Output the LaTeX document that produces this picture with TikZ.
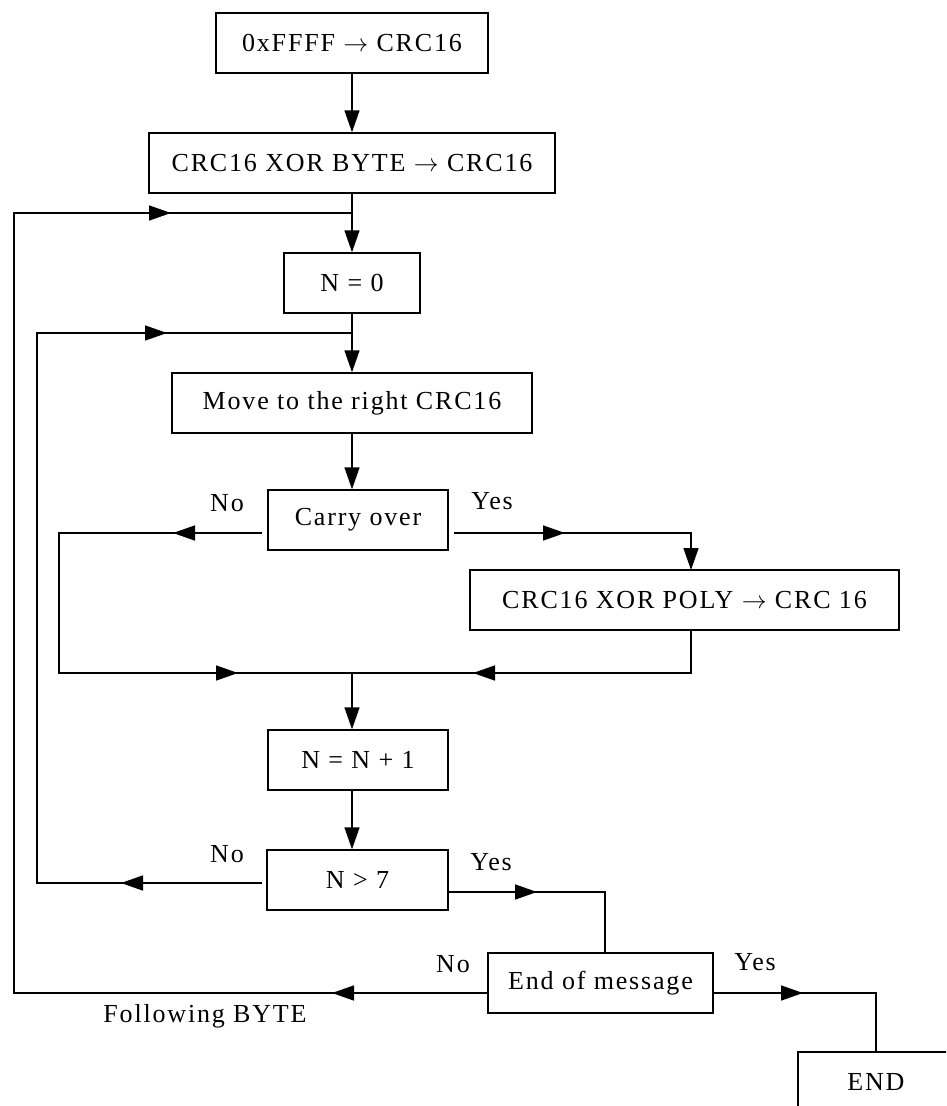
\documentclass[tikz,border=0pt]{standalone}
\usepackage{fontspec}
\setmainfont{Liberation Serif}[LetterSpace=7]
\usetikzlibrary{arrows.meta}
\newcommand\myfs{\fontsize{26}{30}\selectfont}
\newcommand\myto{\ $\rightarrow$\ }
\begin{document}
\begin{tikzpicture}[x=1pt,y=-1pt,
  box/.style={draw, line width=1.5pt, rectangle, inner sep=0pt, font=\myfs, minimum height=60pt},
  lbl/.style={inner sep=0pt, font=\myfs, anchor=base},
  ln/.style={line width=1.5pt},
  arr/.style={line width=1.5pt, -{Triangle[length=22pt,width=15pt]}},
]
\useasboundingbox (0,0) rectangle (946,1106);
\clip (0,0) rectangle (946,1106);

% boxes
\node[box, minimum width=272pt] (b1) at (352,43) {0xFFFF\myto CRC16};
\node[box, minimum width=406pt] (b2) at (352,163) {CRC16 XOR BYTE\myto CRC16};
\node[box, minimum width=136pt] (b3) at (352,283) {N = 0};
\node[box, minimum width=360pt] (b4) at (352,403) {Move to the right CRC16};
\node[box, minimum width=180pt] (b5) at (358,520) {Carry over};
\node[box, minimum width=429pt] (b6) at (684.5,600) {CRC16 XOR POLY\myto CRC 16};
\node[box, minimum width=180pt] (b7) at (358,760) {N = N + 1};
\node[box, minimum width=181pt] (b8) at (357.5,880) {N > 7};
\node[box, minimum width=225pt] (b9) at (600.5,983) {End of message};
\node[box, minimum width=156pt] (b10) at (876,1082) {END};

% helper coordinates
\coordinate (j1) at (352,213);
\coordinate (j2) at (352,333);
\coordinate (j3) at (352,673);
\coordinate (L1) at (14,0);
\coordinate (L2) at (37,0);
\coordinate (L3) at (59,0);
\coordinate (p6) at (691,570);
\coordinate (p6b) at (691,630);
\coordinate (e9t) at (605,953);
\coordinate (endt) at (876,1052);
\coordinate (cN) at ([xshift=-5pt,yshift=-13pt]b5.west);
\coordinate (cY) at ([xshift=5pt,yshift=-13pt]b5.east);
\coordinate (nN) at ([xshift=-4pt,yshift=-3pt]b8.west);
\coordinate (nY) at ([yshift=-12pt]b8.east);
\coordinate (eN) at ([yshift=-10pt]b9.west);
\coordinate (eY) at ([yshift=-10pt]b9.east);
% arrow tips on lines
\coordinate (a1) at (173,533);
\coordinate (a2) at (565,533);
\coordinate (a3) at (473,673);
\coordinate (a4) at (238,673);
\coordinate (a5) at (121,883);
\coordinate (a6) at (167,333);
\coordinate (a7) at (537,892);
\coordinate (a8) at (332,993);
\coordinate (a9) at (171,213);
\coordinate (a10) at (803,993);

% main vertical flow
\draw[arr] (b1.south) -- (b2.north);
\draw[arr] (b2.south) -- (b3.north);
\draw[arr] (b3.south) -- (b4.north);
\draw[arr] (b4.south) -- (b4.south |- b5.north);
\draw[arr] (j3) -- (j3 |- b7.north);
\draw[arr] (j3 |- b7.south) -- (j3 |- b8.north);

% carry over branches
\draw[ln] (cN) -- (L3 |- cN) -- (L3 |- j3) -- (j3);
\draw[arr] (cY) -- (cY -| p6) -- (p6);
\draw[ln] (p6b) -- (p6b |- j3) -- (j3);
\draw[arr] ([xshift=23pt]a1) -- (a1);
\draw[arr] ([xshift=-23pt]a2) -- (a2);
\draw[arr] ([xshift=23pt]a3) -- (a3);
\draw[arr] ([xshift=-23pt]a4) -- (a4);

% N > 7 branches
\draw[ln] (nN) -- (L2 |- nN) -- (L2 |- j2) -- (j2);
\draw[ln] (nY) -- (nY -| e9t) -- (e9t);
\draw[arr] ([xshift=23pt]a5) -- (a5);
\draw[arr] ([xshift=-23pt]a6) -- (a6);
\draw[arr] ([xshift=-23pt]a7) -- (a7);

% end of message branches
\draw[ln] (eN) -- (L1 |- eN) -- (L1 |- j1) -- (j1);
\draw[ln] (eY) -- (eY -| endt) -- (endt);
\draw[arr] ([xshift=23pt]a8) -- (a8);
\draw[arr] ([xshift=-23pt]a9) -- (a9);
\draw[arr] ([xshift=-23pt]a10) -- (a10);

% labels
\node[lbl] (l1) at (227,511) {No};
\node[lbl] (l2) at (492,509) {Yes};
\node[lbl] (l3) at (227,862) {No};
\node[lbl] (l4) at (491,870) {Yes};
\node[lbl] (l5) at (453,972) {No};
\node[lbl] (l6) at (755,970) {Yes};
\node[lbl] (l7) at (205,1022) {Following BYTE};
\end{tikzpicture}
\end{document}
